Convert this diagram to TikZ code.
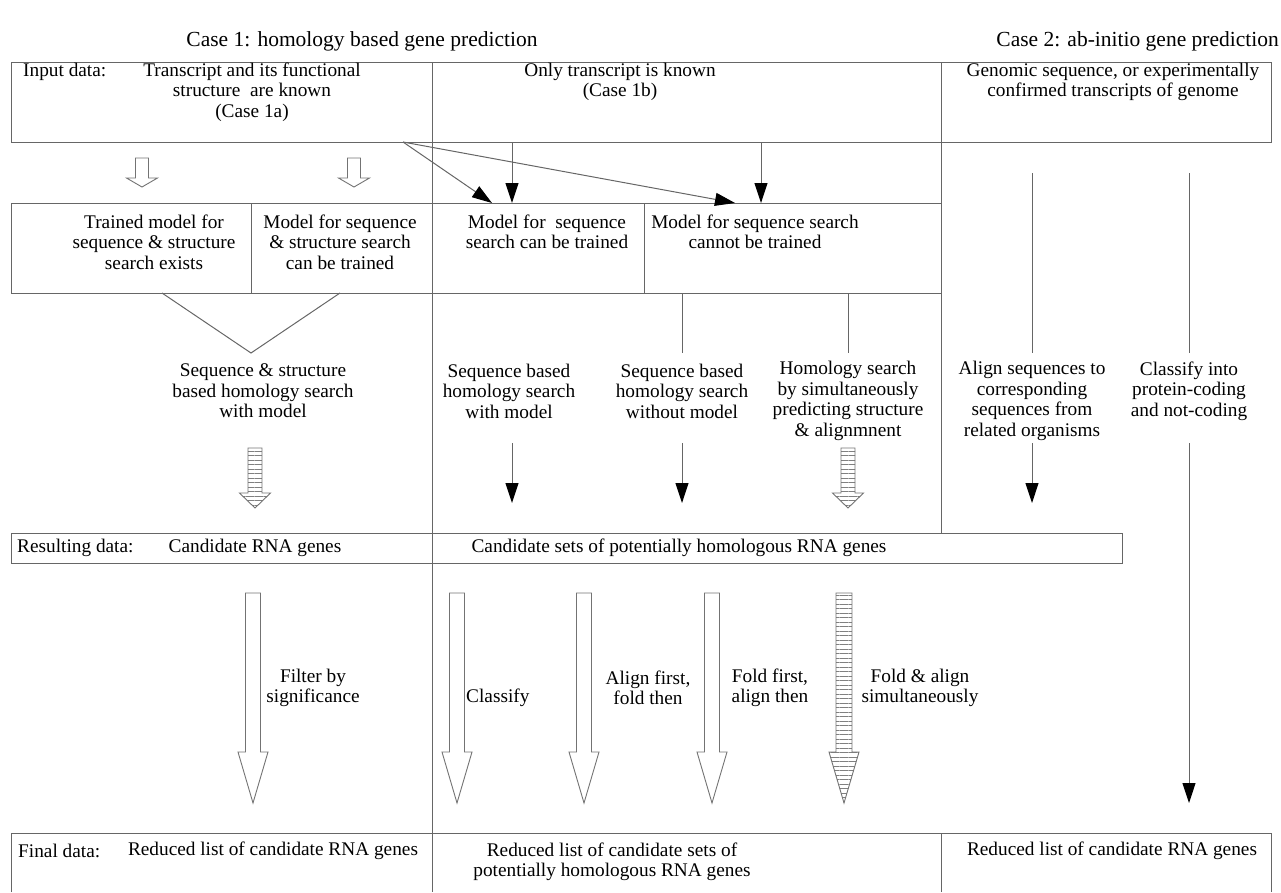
\documentclass[tikz,border=0pt]{standalone}
\usepackage{fontspec}
\setmainfont{Liberation Serif}
\usetikzlibrary{arrows.meta,patterns.meta}

% block arrow: [style] x, top, neck, tip, half shaft, half head
\newcommand{\blockarrow}[7][]{%
  \draw[arrowbody,#1] (#2-#6,#3) -- (#2-#6,#4) -- (#2-#7,#4) -- (#2,#5)
    -- (#2+#7,#4) -- (#2+#6,#4) -- (#2+#6,#3) -- cycle;}

\tikzset{
  every node/.style={font=\fontsize{19.3}{20.5}\selectfont, inner sep=0pt, align=center},
  heading/.style={font=\fontsize{21.5}{24}\selectfont},
  frame/.style={draw=black!60, line width=1pt},
  link/.style={draw=black!60, line width=1pt},
  tip/.style={link, -{Triangle[length=20pt,width=13pt,color=black]}},
  arrowbody/.style={draw=black!55, line width=0.9pt, fill=white},
  striped/.style={pattern={Lines[angle=0,distance=4.5pt,line width=0.7pt]}, pattern color=black!50},
}

\begin{document}
\begin{tikzpicture}[x=1pt,y=-1pt]
  \useasboundingbox (0,0) rectangle (1281,892);

  % headings
  \node[heading] (case1) at (362,41) {Case 1: homology based gene prediction};
  \node[heading,anchor=east] (case2) at (1279,41) {Case 2: ab-initio gene prediction};

  % frames
  \draw[frame] (11,62) rectangle (1271,142);
  \draw[frame] (11,203) rectangle (941,293);
  \draw[frame] (251,203) -- (251,293);
  \draw[frame] (644,203) -- (644,293);
  \draw[frame] (432,62) -- (432,892);
  \draw[frame] (941,62) -- (941,533);
  \draw[frame] (11,533) rectangle (1122,563);
  \draw[frame] (11,892) -- (11,833) -- (1271,833) -- (1271,892);
  \draw[frame] (941,833) -- (941,892);

  % input data
  \node[anchor=west] (inlabel) at (23,72) {Input data:};
  \node (in1a) at (252,92) {Transcript and its functional\\structure~ are known\\(Case 1a)};
  \node (in1b) at (620,82) {Only transcript is known\\(Case 1b)};
  \node (in2) at (1113,82) {Genomic sequence, or experimentally\\confirmed transcripts of genome};

  % models
  \node (m1) at (154,242) {Trained model for\\sequence \& structure\\search exists};
  \node (m2) at (340,242) {Model for sequence\\\& structure search\\can be trained};
  \node (m3) at (547,232) {Model for~ sequence\\search can be trained};
  \node (m4) at (755,232) {Model for sequence search\\cannot be trained};

  % searches
  \node (s1) at (263,391) {Sequence \& structure\\based homology search\\with model};
  \node (s2) at (509,391) {Sequence based\\homology search\\with model};
  \node (s3) at (682,391) {Sequence based\\homology search\\without model};
  \node (s4) at (848,401) {Homology search\\by simultaneously\\predicting structure\\\& alignmnent};
  \node (s5) at (1032,401) {Align sequences to\\corresponding\\sequences from\\related organisms};
  \node (s6) at (1189,391) {Classify into\\protein-coding\\and not-coding};

  % resulting data
  \node[anchor=west] (rlabel) at (17,548) {Resulting data:};
  \node (r1) at (255,548) {Candidate RNA genes};
  \node (r2) at (679,548) {Candidate sets of potentially homologous RNA genes};

  % filters
  \node (f1) at (313,688) {Filter by\\significance};
  \node[anchor=west] (f2) at (466,698) {Classify};
  \node (f3) at (648,688) {Align first,\\fold then};
  \node (f4) at (770,688) {Fold first,\\align then};
  \node (f5) at (920,688) {Fold \& align\\simultaneously};

  % final data
  \node[anchor=west] (dlabel) at (18,851) {Final data:};
  \node (d1) at (273,851) {Reduced list of candidate RNA genes};
  \node (d2) at (612,862) {Reduced list of candidate sets of\\potentially homologous RNA genes};
  \node (d3) at (1112,851) {Reduced list of candidate RNA genes};

  % connectors
  \coordinate (src) at (403,142);
  \coordinate (m3top) at (492,203);
  \coordinate (m4top) at (735,203);
  \draw[tip] (src) -- (m3top);
  \draw[tip] (src) -- (m4top);
  \draw[tip] (512,142) -- (512,203);
  \draw[tip] (761,142) -- (761,203);
  \draw[link] (162,293) -- (251,353) -- (340,293);
  \draw[link] (682,293) -- (682,353);
  \draw[link] (848,293) -- (848,353);
  \draw[link] (1032,173) -- (1032,353);
  \draw[link] (1189,173) -- (1189,353);
  \draw[tip] (512,443) -- (512,503);
  \draw[tip] (682,443) -- (682,503);
  \draw[tip] (1032,443) -- (1032,503);
  \draw[tip] (1189,443) -- (1189,803);

  % block arrows
  \blockarrow{142}{158}{178}{187}{6.5}{15.5}
  \blockarrow{354}{158}{178}{187}{6.5}{15.5}
  \blockarrow[striped]{255}{448}{493}{508}{7}{15.5}
  \blockarrow[striped]{848}{448}{493}{508}{7}{15.5}
  \blockarrow{253}{593}{752}{803}{7.5}{15}
  \blockarrow{457}{593}{752}{803}{7.5}{15}
  \blockarrow{584}{593}{752}{803}{7.5}{15}
  \blockarrow{712}{593}{752}{803}{7.5}{15}
  \blockarrow[striped]{844}{593}{752}{803}{8}{15}
\end{tikzpicture}
\end{document}
